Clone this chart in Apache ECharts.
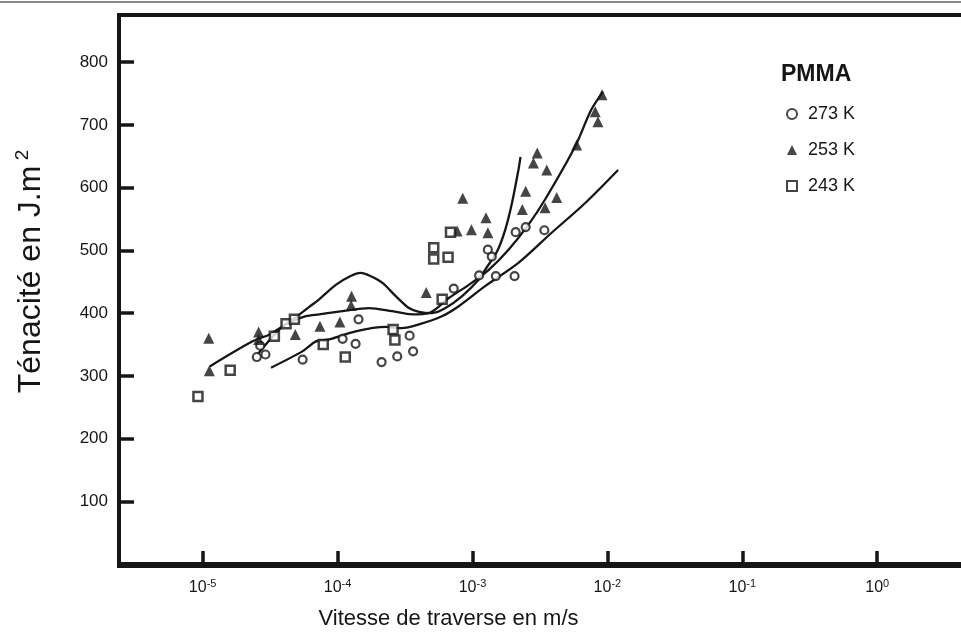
<!DOCTYPE html>
<html>
<head>
<meta charset="utf-8">
<style>
    html, body {
        height: 100%;
        margin: 0;
        padding: 0;
        background: #fff;
        overflow: hidden;
    }

    /* un peu plus large que la fenêtre : le bord droit du cadre sort de l'image */
    #main {
        width: 967px;
        height: 635px;
    }
</style>
</head>
<body>
<div id="main"></div>

<script src="https://cdn.jsdelivr.net/npm/echarts@6/dist/echarts.min.js"></script>
<script type="text/javascript">
// vitesse de traverse (m/s) et ténacité (J.m-2)
var v273 = [2.52e-5, 2.92e-5, 2.67e-5, 5.51e-5, 1.43e-4, 1.09e-4, 1.36e-4, 2.12e-4, 2.77e-4, 3.63e-4,
            3.42e-4, 7.26e-4, 1.12e-3, 1.49e-3, 2.05e-3, 1.30e-3, 1.39e-3, 2.09e-3, 2.48e-3, 3.41e-3];
var t273 = [330, 334, 348, 326, 390, 359, 351, 322, 331, 339,
            364, 439, 460, 459, 459, 501, 490, 529, 537, 532];

var v253 = [1.11e-5, 1.12e-5, 2.6e-5, 2.6e-5, 4.86e-5, 7.4e-5, 1.04e-4, 1.27e-4, 1.26e-4, 4.54e-4,
            8.47e-4, 7.69e-4, 9.82e-4, 1.26e-3, 1.30e-3, 2.48e-3, 2.34e-3, 3.45e-3, 4.21e-3, 3.02e-3,
            2.83e-3, 3.55e-3, 5.92e-3, 9.12e-3, 8.13e-3, 8.51e-3];
var t253 = [360, 308, 370, 358, 366, 379, 386, 427, 412, 433,
            583, 531, 533, 552, 528, 594, 565, 568, 584, 655,
            639, 628, 668, 748, 721, 705];

var v243 = [9.23e-6, 1.60e-5, 3.40e-5, 4.15e-5, 4.79e-5, 7.83e-5, 1.14e-4, 2.58e-4, 2.66e-4, 5.16e-4,
            5.16e-4, 6.59e-4, 6.87e-4, 5.96e-4];
var t243 = [267, 309, 363, 383, 390, 350, 330, 374, 357, 504,
            486, 489, 529, 422];

// courbes tracées à la main sur la figure
var vCourbeA = [2.55e-5, 3.71e-5, 4.94e-5, 6.17e-5, 7.31e-5, 9.70e-5, 1.25e-4, 1.48e-4, 1.75e-4, 2.15e-4,
                2.70e-4, 3.38e-4, 4.01e-4, 5.01e-4, 6.31e-4, 8.38e-4, 1.11e-3, 1.24e-3, 1.52e-3, 1.75e-3,
                1.96e-3, 2.19e-3, 2.27e-3];
var tCourbeA = [334, 374, 394, 410, 422, 445, 459, 464, 459, 448,
                427, 408, 402, 400, 408, 427, 453, 469, 498, 533,
                575, 628, 649];

var vCourbeB = [1.13e-5, 2.34e-5, 3.13e-5, 4.40e-5, 5.83e-5, 7.31e-5, 1.15e-4, 1.71e-4, 2.54e-4, 3.57e-4,
                4.75e-4, 6.67e-4, 9.38e-4, 1.32e-3, 1.85e-3, 2.60e-3, 3.45e-3, 5.75e-3, 7.59e-3, 9.31e-3];
var tCourbeB = [315, 355, 366, 385, 395, 398, 404, 408, 403, 398,
                400, 424, 445, 469, 501, 541, 581, 665, 724, 753];

var vCourbeC = [3.21e-5, 5.48e-5, 6.92e-5, 8.67e-5, 1.36e-4, 2.28e-4, 3.00e-4, 4.01e-4, 5.93e-4, 7.91e-4,
                1.24e-3, 2.19e-3, 3.86e-3, 6.82e-3, 1.20e-2];
var tCourbeC = [313, 339, 355, 358, 371, 378, 376, 382, 395, 411,
                443, 480, 528, 575, 628];

var yTicks = [100, 200, 300, 400, 500, 600, 700, 800];

var ink = '#161616';
var font = "'Liberation Sans', Arial, Helvetica, sans-serif";

function paires(xs, ys) {
    var out = [];
    for (var i = 0; i < xs.length; i++) {
        out.push([xs[i], ys[i]]);
    }
    return out;
}

function courbe(xs, ys) {
    return {
        type: 'line',
        data: paires(xs, ys),
        symbol: 'none',
        smooth: 0.3,
        silent: true,
        lineStyle: {color: ink, width: 2.3},
        z: 2
    };
}

var myChart = echarts.init(document.getElementById('main'));

var option = {
    backgroundColor: '#fff',
    animation: false,
    title: {
        text: 'PMMA',
        left: 776,
        top: 58,
        textStyle: {fontFamily: font, fontSize: 23, fontWeight: 'bold', color: ink}
    },
    legend: {
        orient: 'vertical',
        left: 781,
        top: 100,
        itemWidth: 10,
        itemHeight: 10,
        itemGap: 18,
        data: ['273 K', '253 K', '243 K'],
        textStyle: {fontFamily: font, fontSize: 18, color: ink, padding: [0, 0, 0, 6]}
    },
    graphic: [{
        type: 'line',
        shape: {x1: 0, y1: 2, x2: 967, y2: 2},
        style: {stroke: '#8a8a8a', lineWidth: 2},
        silent: true
    }],
    grid: {
        left: 119,
        top: 15,
        right: 0,
        bottom: 68,
        show: true,
        borderColor: ink,
        borderWidth: 4
    },
    xAxis: {
        type: 'log',
        logBase: 10,
        min: Math.pow(10, -5.62),
        max: Math.pow(10, 0.643),
        name: 'Vitesse de traverse en m/s',
        nameLocation: 'middle',
        nameGap: 42,
        nameTextStyle: {fontFamily: font, fontSize: 22, color: ink, padding: [0, 186, 0, 0]},
        axisLine: {lineStyle: {color: ink, width: 4}},
        axisTick: {inside: true, length: 13, lineStyle: {color: ink, width: 3.5}},
        splitLine: {show: false},
        axisLabel: {
            margin: 12,
            color: ink,
            fontFamily: font,
            fontSize: 16,
            formatter: function (v) {
                var e = Math.log10(v);
                var r = Math.round(e);
                if (Math.abs(e - r) > 1e-6) {
                    return '';
                }
                return '{b|10}{s|' + r + '}';
            },
            rich: {
                b: {fontFamily: font, fontSize: 16, color: ink, lineHeight: 20},
                s: {fontFamily: font, fontSize: 11, color: ink, verticalAlign: 'top', lineHeight: 11}
            }
        }
    },
    yAxis: {
        type: 'value',
        min: -3,
        max: 875,
        name: '{a|Ténacité en J.m}{s| 2}',
        nameLocation: 'middle',
        nameGap: 70,
        nameTextStyle: {
            padding: [0, 0, 0, 38],
            rich: {
                a: {fontFamily: font, fontSize: 32, color: ink, lineHeight: 36},
                s: {fontFamily: font, fontSize: 19, color: ink, verticalAlign: 'top', lineHeight: 19}
            }
        },
        axisLine: {show: true, lineStyle: {color: ink, width: 4}},
        axisTick: {show: true, inside: true, length: 15, customValues: yTicks, lineStyle: {color: ink, width: 3.5}},
        axisLabel: {customValues: yTicks, margin: 11, fontFamily: font, fontSize: 17, color: ink},
        splitLine: {show: false}
    },
    series: [
        courbe(vCourbeA, tCourbeA),
        courbe(vCourbeB, tCourbeB),
        courbe(vCourbeC, tCourbeC),
        {
            name: '273 K',
            type: 'scatter',
            data: paires(v273, t273),
            symbol: 'circle',
            symbolSize: 8,
            itemStyle: {color: '#fff', borderColor: ink, borderWidth: 2.2},
            z: 3
        },
        {
            name: '253 K',
            type: 'scatter',
            data: paires(v253, t253),
            symbol: 'triangle',
            symbolSize: 11,
            itemStyle: {color: ink},
            z: 3
        },
        {
            name: '243 K',
            type: 'scatter',
            data: paires(v243, t243),
            symbol: 'rect',
            symbolSize: 9,
            itemStyle: {color: '#fff', borderColor: ink, borderWidth: 2.5},
            z: 3
        }
    ]
};

myChart.setOption(option);
</script>
</body>
</html>
